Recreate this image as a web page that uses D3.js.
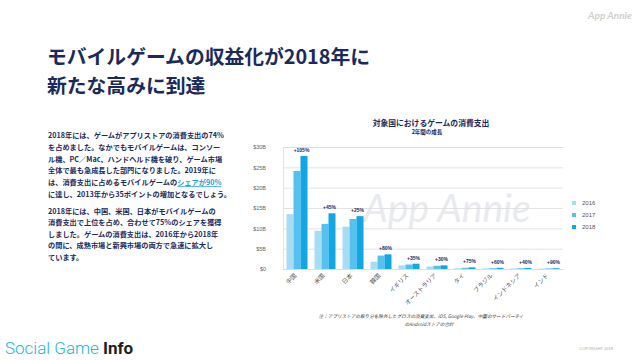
<!DOCTYPE html>
<html><head><meta charset="utf-8">
<script src="https://cdn.jsdelivr.net/npm/d3@7"></script>
<style>
html,body{margin:0;padding:0;background:#fff;}
svg{display:block;}
</style></head>
<body>
<svg id="c" width="640" height="360"></svg>
<script>
const categories = ["中国","米国","日本","韓国","イギリス","オーストラリア","タイ","ブラジル","インドネシア","インド"];
const years = ["2016","2017","2018"];
const v2016 = [13.5, 9.4, 10.4, 1.8, 0.9, 0.6, 0.2, 0.15, 0.15, 0.1];
const v2017 = [24.1, 11.1, 12.3, 3.3, 1.1, 0.8, 0.3, 0.2, 0.2, 0.15];
const v2018 = [27.8, 13.7, 13.0, 3.6, 1.3, 0.9, 0.4, 0.3, 0.25, 0.2];
const growth = ["+105%","+45%","+25%","+80%","+35%","+30%","+75%","+60%","+40%","+90%"];
const yTicks = [0,5,10,15,20,25,30];
const colors = ["#a6dcf4","#55c1ee","#12a6e4"];

const svg = d3.select("#c");
const JP = "'Noto Sans CJK JP', 'Noto Sans', sans-serif";
const navy = "#1b2a5c";

// Top-right logo
svg.append("text").attr("x",610).attr("y",19).attr("text-anchor","middle")
  .style("font-family","Lato, sans-serif").style("font-style","italic").style("font-weight","700")
  .style("font-size","10px").attr("fill","#d0d0d0").text("App Annie");

// Main title
const title = svg.append("g").style("font-family",JP).style("font-weight","700").style("font-size","19.8px").attr("fill",navy);
title.append("text").attr("x",47).attr("y",64).text("モバイルゲームの収益化が2018年に");
title.append("text").attr("x",47).attr("y",93).text("新たな高みに到達");

// Paragraphs
const para = svg.append("g").style("font-family",JP).style("font-weight","700").style("font-size","7.2px").attr("fill",navy);
const p1 = ["2018年には、ゲームがアプリストアの消費支出の74%",
  "を占めました。なかでもモバイルゲームは、コンソー",
  "ル機、PC／Mac、ハンドヘルド機を破り、ゲーム市場",
  "全体で最も急成長した部門になりました。2019年に",
  null,
  "に達し、2013年から35ポイントの増加となるでしょう。"];
const p2 = ["2018年には、中国、米国、日本がモバイルゲームの",
  "消費支出で上位を占め、合わせて75%のシェアを獲得",
  "しました。ゲームの消費支出は、2016年から2018年",
  "の間に、成熟市場と新興市場の両方で急速に拡大し",
  "ています。"];
p1.forEach((t,i)=>{
  const tx = para.append("text").attr("x",48).attr("y",138+i*11.8);
  if(t===null){
    tx.append("tspan").text("は、消費支出に占めるモバイルゲームの");
    tx.append("tspan").attr("fill","#1aa2e0").style("text-decoration","underline").text("シェアが90%");
  } else tx.text(t);
});
p2.forEach((t,i)=>{
  para.append("text").attr("x",48).attr("y",213.5+i*11.5).text(t);
});

// Chart
const x0 = d3.scaleBand().domain(categories).range([283,563]).paddingInner(0.25).paddingOuter(0.125);
const x1 = d3.scaleBand().domain(years).range([0,x0.bandwidth()]);
const y = d3.scaleLinear().domain([0,30]).range([269,147]);

// watermark
svg.append("text").attr("x",447).attr("y",222).attr("text-anchor","middle")
  .style("font-family","Lato, sans-serif").style("font-style","italic").style("font-weight","400")
  .style("font-size","39px").attr("fill","#e8eaef").text("App Annie");

// chart title
svg.append("text").attr("x",431).attr("y",126).attr("text-anchor","middle")
  .style("font-family",JP).style("font-weight","700").style("font-size","7.8px").attr("fill",navy)
  .text("対象国におけるゲームの消費支出");
svg.append("text").attr("x",427).attr("y",133.5).attr("text-anchor","middle")
  .style("font-family",JP).style("font-weight","700").style("font-size","5.5px").attr("fill",navy)
  .text("2年間の成長");

// grid + y axis
const yAxis = d3.axisLeft(y).tickValues(yTicks).tickSize(-(563-283)).tickFormat(d=>"$"+d+(d===0?"":"B"));
const gy = svg.append("g").attr("transform","translate(283,0)").call(yAxis);
gy.select(".domain").attr("stroke","#dcdcdc").attr("stroke-width",0.8);
gy.selectAll(".tick line").attr("stroke","#dcdcdc").attr("stroke-width",0.8);
gy.selectAll(".tick text").attr("x",-17).attr("fill","#666")
  .style("font-family","'Liberation Sans', Arial, sans-serif").style("font-size","5.5px");

// bars
const series = [v2016,v2017,v2018];
const groups = svg.append("g").selectAll("g").data(categories).join("g")
  .attr("transform",d=>`translate(${x0(d)},0)`);
groups.selectAll("rect").data((d,i)=>years.map((yr,j)=>({yr,v:series[j][i],j})))
  .join("rect")
  .attr("x",d=>x1(d.yr)).attr("width",x1.bandwidth())
  .attr("y",d=>y(d.v)).attr("height",d=>y(0)-y(d.v))
  .attr("fill",d=>colors[d.j]);

// growth labels
svg.append("g").selectAll("text").data(categories).join("text")
  .attr("x",d=>x0(d)+x0.bandwidth()/2+4.5)
  .attr("y",(d,i)=>y(Math.max(v2018[i],v2017[i]))-4)
  .attr("text-anchor","middle")
  .style("font-family","'Liberation Sans', Arial, sans-serif").style("font-weight","700")
  .style("font-size","5px").attr("fill",navy)
  .text((d,i)=>growth[i]);

// x labels
const xAxis = d3.axisBottom(x0).tickSize(0);
const gx = svg.append("g").attr("transform","translate(0,270)").call(xAxis);
gx.select(".domain").remove();
gx.selectAll(".tick text").attr("text-anchor","end").attr("dy",0).attr("y",0)
  .attr("transform","translate(0,6) rotate(-45)")
  .attr("fill","#555").style("font-family",JP).style("font-size","6px");

// legend
const lg = svg.append("g").selectAll("g").data(years).join("g")
  .attr("transform",(d,i)=>`translate(572,${203+i*12})`);
lg.append("rect").attr("x",0).attr("y",-2).attr("width",4).attr("height",4).attr("fill",(d,i)=>colors[i]);
lg.append("text").attr("x",10).attr("y",2).text(d=>d)
  .attr("fill","#555").style("font-family","'Liberation Sans', Arial, sans-serif").style("font-size","6px");

// footnote
const fn = svg.append("g").style("font-family",JP).style("font-style","italic").style("font-size","4.6px").attr("fill","#333").attr("text-anchor","middle");
fn.append("text").attr("x",421).attr("y",318).text("注：アプリストアの取り分を除外したグロスの消費支出。iOS, Google Play、中国のサードパーティ");
fn.append("text").attr("x",429).attr("y",325.5).text("のAndroidストアの合計");

// footer
const ft = svg.append("text").attr("x",5).attr("y",354).style("font-family","Roboto, 'Liberation Sans', sans-serif").style("font-size","17px");
ft.append("tspan").attr("fill","#22b3da").style("font-weight","300").text("Social Game ");
ft.append("tspan").attr("fill","#1e1e1e").style("font-weight","700").text("Info");
svg.append("text").attr("x",613).attr("y",350).attr("text-anchor","end")
  .style("font-family","'Liberation Sans', Arial, sans-serif").style("font-size","4px").attr("fill","#aaa").text("COPYRIGHT 2018");
</script>
</body></html>
